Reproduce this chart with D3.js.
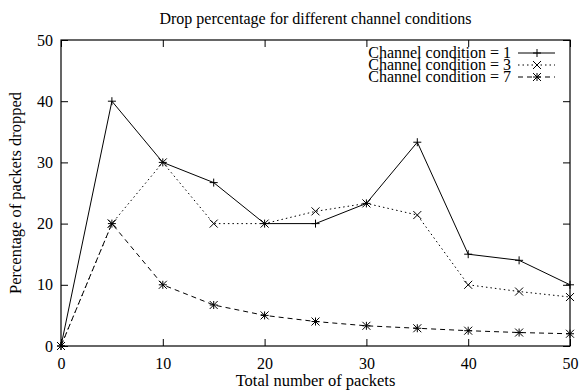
<!DOCTYPE html>
<html>
<head>
<meta charset="utf-8">
<script src="https://cdn.jsdelivr.net/npm/d3@7"></script>
<style>
  body { margin: 0; background: #fff; }
  svg text { font-family: "Liberation Serif", "Times New Roman", serif; fill: #000; }
</style>
</head>
<body>
<div id="chart"></div>
<script>
(function() {

    // data
    var packets = [0, 5, 10, 15, 20, 25, 30, 35, 40, 45, 50];
    var cond1 = [0, 40, 30, 26.7, 20, 20, 23.3, 33.3, 15, 14, 10];
    var cond3 = [0, 20, 30, 20, 20, 22, 23.3, 21.4, 10, 8.9, 8];
    var cond7 = [0, 20, 10, 6.7, 5, 4, 3.3, 2.9, 2.5, 2.2, 2];
    var xTicks = [0, 10, 20, 30, 40, 50];
    var yTicks = [0, 10, 20, 30, 40, 50];

    var series = [
        {name: "Channel condition = 1", values: cond1, dash: null, marker: "plus"},
        {name: "Channel condition = 3", values: cond3, dash: "1.5,3", marker: "cross"},
        {name: "Channel condition = 7", values: cond7, dash: "5,4", marker: "star"}
    ];

    var W = 581, H = 391;
    var margin = {top: 40, left: 61, right: 11, bottom: 45},
        width = W - margin.left - margin.right,
        height = H - margin.top - margin.bottom;

    var svg = d3.select("#chart").append("svg")
        .attr("width", W)
        .attr("height", H);

    var g = svg.append("g")
        .attr("transform", "translate(" + margin.left + "," + margin.top + ")");

    var x = d3.scaleLinear().domain([0, 50]).range([0, width]);
    var y = d3.scaleLinear().domain([0, 50]).range([height, 0]);

    // inward ticks on all four sides, gnuplot style
    var tk = 7;
    function styleAxis(sel) {
        sel.attr("font-family", null);
        sel.select(".domain").remove();
        sel.selectAll("line").attr("stroke", "#000").attr("stroke-width", 1);
        sel.selectAll("text").attr("font-size", 16);
    }
    g.append("g").attr("transform", "translate(0," + height + ")")
        .call(d3.axisBottom(x).tickValues(xTicks).tickSize(-tk).tickPadding(12))
        .call(styleAxis);
    g.append("g")
        .call(d3.axisTop(x).tickValues(xTicks).tickSize(-tk).tickFormat(""))
        .call(styleAxis);
    g.append("g")
        .call(d3.axisLeft(y).tickValues(yTicks).tickSize(-tk).tickPadding(8))
        .call(styleAxis);
    g.append("g").attr("transform", "translate(" + width + ",0)")
        .call(d3.axisRight(y).tickValues(yTicks).tickSize(-tk).tickFormat(""))
        .call(styleAxis);

    g.append("rect")
        .attr("width", width).attr("height", height)
        .attr("fill", "none").attr("stroke", "#000").attr("stroke-width", 1.2);

    function markerPath(type, r) {
        var p = "";
        if (type === "plus" || type === "star")
            p += "M" + (-r) + ",0H" + r + "M0," + (-r) + "V" + r;
        if (type === "cross" || type === "star")
            p += "M" + (-r) + "," + (-r) + "L" + r + "," + r + "M" + (-r) + "," + r + "L" + r + "," + (-r);
        return p;
    }

    var line = d3.line()
        .x(function(d, i) { return x(packets[i]); })
        .y(function(d) { return y(d); });

    series.forEach(function(s) {
        g.append("path")
            .attr("d", line(s.values))
            .attr("fill", "none")
            .attr("stroke", "#000")
            .attr("stroke-width", 1)
            .attr("stroke-dasharray", s.dash);
        g.selectAll(null)
            .data(s.values)
            .enter().append("path")
            .attr("transform", function(d, i) { return "translate(" + x(packets[i]) + "," + y(d) + ")"; })
            .attr("d", markerPath(s.marker, 4))
            .attr("stroke", "#000")
            .attr("stroke-width", 1)
            .attr("fill", "none");
    });

    // legend
    var legend = g.append("g")
        .selectAll("g")
        .data(series)
        .enter().append("g")
        .attr("transform", function(d, i) { return "translate(0," + (13 + i * 12) + ")"; });

    legend.append("text")
        .attr("x", 450)
        .attr("dy", "0.32em")
        .attr("text-anchor", "end")
        .attr("font-size", 16)
        .text(function(d) { return d.name; });

    legend.append("line")
        .attr("x1", 457).attr("x2", 494)
        .attr("stroke", "#000")
        .attr("stroke-dasharray", function(d) { return d.dash; });

    legend.append("path")
        .attr("transform", "translate(476,0)")
        .attr("d", function(d) { return markerPath(d.marker, 4); })
        .attr("stroke", "#000")
        .attr("fill", "none");

    // titles
    svg.append("text")
        .attr("x", margin.left + width / 2)
        .attr("y", 24)
        .attr("text-anchor", "middle")
        .attr("font-size", 16)
        .text("Drop percentage for different channel conditions");

    svg.append("text")
        .attr("x", margin.left + width / 2)
        .attr("y", 386)
        .attr("text-anchor", "middle")
        .attr("font-size", 16.5)
        .text("Total number of packets");

    svg.append("text")
        .attr("transform", "translate(21," + (margin.top + height / 2) + ") rotate(-90)")
        .attr("text-anchor", "middle")
        .attr("font-size", 16.5)
        .text("Percentage of packets dropped");

})();
</script>
</body>
</html>
